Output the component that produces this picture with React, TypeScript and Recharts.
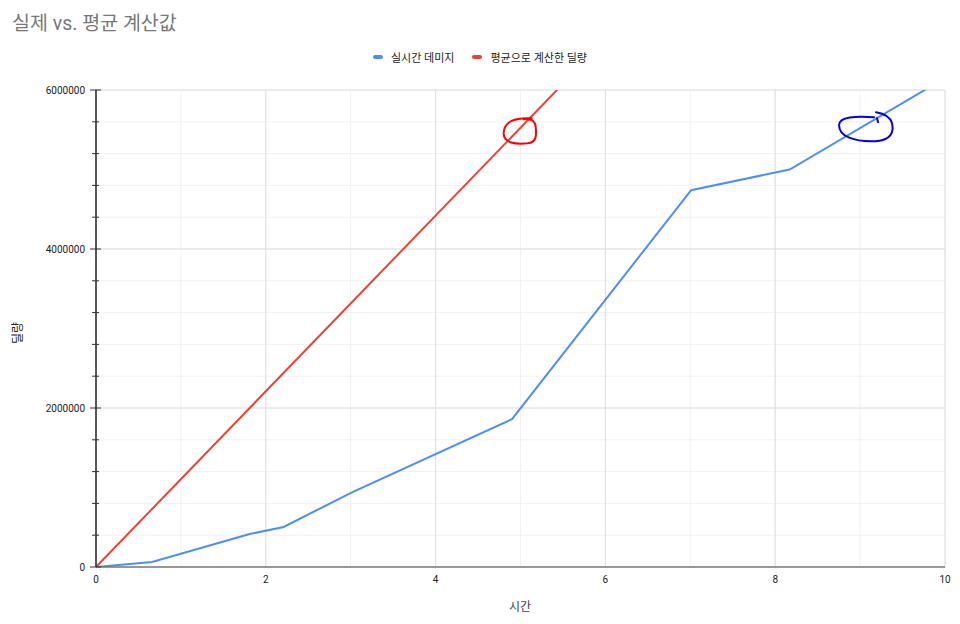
import React from "react";
import {
  LineChart,
  Line,
  XAxis,
  YAxis,
  CartesianGrid,
  ReferenceLine,
  ReferenceDot,
} from "recharts";

const FONT = "Roboto, 'Noto Sans CJK KR', 'Noto Sans', sans-serif";

const title = "실제 vs. 평균 계산값";
const seriesNames = ["실시간 데미지", "평균으로 계산한 딜량"];
const seriesColors = ["#4d8ef6", "#ea4335"];

// 실시간 데미지 (time, damage)
const realTime = [0, 0.66, 1.81, 2.21, 3.02, 4.9, 7.01, 8.17, 10];
const realDamage = [0, 63000, 415000, 503000, 943000, 1860000, 4740000, 5000000, 6150000];

// 평균으로 계산한 딜량
const avgTime = [0, 10];
const avgDamage = [0, 11050000];

const xTicks = [0, 1, 2, 3, 4, 5, 6, 7, 8, 9, 10];
const xMajor = [2, 4, 6, 8, 10];
const yTicks = [
  0, 400000, 800000, 1200000, 1600000, 2000000, 2400000, 2800000, 3200000,
  3600000, 4000000, 4400000, 4800000, 5200000, 5600000, 6000000,
];
const yMajor = [2000000, 4000000, 6000000];

// hand-drawn highlight marks
const marks = [
  { x: 4.99, y: 5480000, color: "#ff0000", kind: "small" },
  { x: 9.07, y: 5520000, color: "#0000ee", kind: "wide" },
];

const realData = realTime.map((t, i) => ({ t, v: realDamage[i] }));
const avgData = avgTime.map((t, i) => ({ t, v: avgDamage[i] }));

const XTick = (props: any) => {
  const { x, y, payload } = props;
  if (payload.value % 2 !== 0) return null;
  return (
    <text x={x} y={y} dy={8} textAnchor="middle" fontSize={10} fill="#222" fontFamily={FONT}>
      {payload.value}
    </text>
  );
};

const YTick = (props: any) => {
  const { x, y, payload } = props;
  const axisX = x + 11;
  const major = payload.value % 2000000 === 0;
  return (
    <g>
      <line
        x1={axisX - (major ? 6 : 4)}
        x2={axisX + (major ? 5 : 3)}
        y1={y}
        y2={y}
        stroke="#333"
        strokeWidth={1}
      />
      {major && (
        <text x={x} y={y} dy={4} textAnchor="end" fontSize={10} fill="#222" fontFamily={FONT}>
          {payload.value}
        </text>
      )}
    </g>
  );
};

const Scribble = (props: any) => {
  const { cx, cy, kind, color } = props;
  if (cx == null || cy == null) return null;
  const d =
    kind === "small"
      ? `M ${cx + 12} ${cy - 13} C ${cx - 4} ${cy - 14}, ${cx - 16} ${cy - 10}, ${cx - 16} ${cy + 2}
         C ${cx - 16} ${cy + 12}, ${cx - 4} ${cy + 13}, ${cx + 8} ${cy + 12}
         C ${cx + 17} ${cy + 11}, ${cx + 17} ${cy + 4}, ${cx + 16} ${cy - 5}
         C ${cx + 15} ${cy - 11}, ${cx + 11} ${cy - 13}, ${cx + 4} ${cy - 12}`
      : `M ${cx + 8} ${cy - 11} C ${cx - 10} ${cy - 12}, ${cx - 27} ${cy - 12}, ${cx - 27} ${cy - 3}
         C ${cx - 27} ${cy + 8}, ${cx - 12} ${cy + 14}, ${cx + 10} ${cy + 13}
         C ${cx + 25} ${cy + 12}, ${cx + 28} ${cy + 4}, ${cx + 26} ${cy - 5}
         C ${cx + 24} ${cy - 12}, ${cx + 16} ${cy - 15}, ${cx + 10} ${cy - 16}
         M ${cx + 12} ${cy - 6} L ${cx + 11} ${cy - 10}`;
  return <path d={d} fill="none" stroke={color} strokeWidth={2} strokeLinecap="round" />;
};

export default function App() {
  return (
    <div
      style={{
        position: "absolute",
        left: 0,
        top: 0,
        width: 960,
        height: 624,
        background: "#fff",
        fontFamily: FONT,
      }}
    >
      <div
        style={{
          position: "absolute",
          left: 12,
          top: 7,
          fontSize: 19.5,
          color: "#777",
        }}
      >
        {title}
      </div>
      <div
        style={{
          position: "absolute",
          left: 0,
          top: 49,
          width: 960,
          display: "flex",
          justifyContent: "center",
          gap: 18,
          fontSize: 11,
          color: "#222",
        }}
      >
        {seriesNames.map((name, i) => (
          <div key={name} style={{ display: "flex", alignItems: "center" }}>
            <span
              style={{
                display: "inline-block",
                width: 10,
                height: 4,
                borderRadius: 2,
                background: seriesColors[i],
                marginRight: 8,
              }}
            />
            {name}
          </div>
        ))}
      </div>
      <div style={{ position: "absolute", left: 0, top: 0 }}>
        <LineChart width={960} height={624} margin={{ top: 90, right: 15, bottom: 37, left: 26 }}>
          <CartesianGrid stroke="#f1f1f1" strokeWidth={1} />
          {xMajor.map((v) => (
            <ReferenceLine key={"x" + v} x={v} stroke="#dedede" strokeWidth={1} />
          ))}
          {yMajor.map((v) => (
            <ReferenceLine key={"y" + v} y={v} stroke="#dedede" strokeWidth={1} />
          ))}
          <XAxis
            type="number"
            dataKey="t"
            domain={[0, 10]}
            ticks={xTicks}
            interval={0}
            tick={<XTick />}
            tickLine={false}
            axisLine={{ stroke: "#777", strokeWidth: 1.5 }}
            height={20}
            allowDataOverflow
          />
          <YAxis
            type="number"
            dataKey="v"
            domain={[0, 6000000]}
            ticks={yTicks}
            interval={0}
            tick={<YTick />}
            tickLine={false}
            tickSize={0}
            tickMargin={11}
            axisLine={{ stroke: "#222", strokeWidth: 1.5 }}
            width={70}
            allowDataOverflow
          />
          <Line
            data={avgData}
            dataKey="v"
            name={seriesNames[1]}
            stroke={seriesColors[1]}
            strokeWidth={2}
            dot={false}
            activeDot={false}
            isAnimationActive={false}
          />
          <Line
            data={realData}
            dataKey="v"
            name={seriesNames[0]}
            stroke={seriesColors[0]}
            strokeWidth={2}
            dot={false}
            activeDot={false}
            isAnimationActive={false}
          />
          {marks.map((m) => (
            <ReferenceDot
              key={m.kind}
              x={m.x}
              y={m.y}
              ifOverflow="visible"
              shape={(p: any) => <Scribble {...p} kind={m.kind} color={m.color} />}
            />
          ))}
        </LineChart>
      </div>
      <div
        style={{
          position: "absolute",
          left: 520,
          top: 597,
          transform: "translateX(-50%)",
          fontSize: 12,
          color: "#444",
        }}
      >
        시간
      </div>
      <div
        style={{
          position: "absolute",
          left: 16,
          top: 333,
          transform: "translate(-50%, -50%) rotate(-90deg)",
          fontSize: 12,
          color: "#222",
          whiteSpace: "nowrap",
        }}
      >
        딜량
      </div>
    </div>
  );
}
